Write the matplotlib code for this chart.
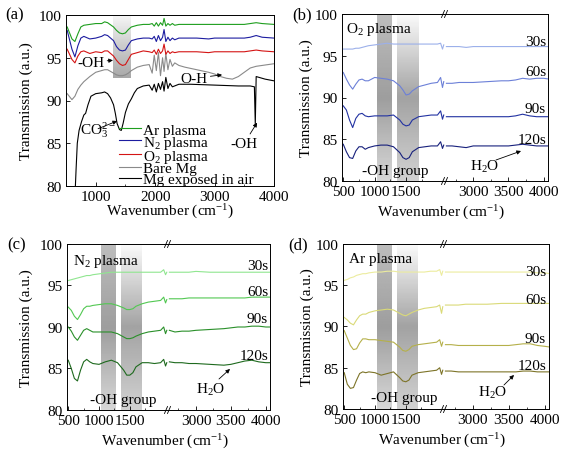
import numpy as np
import matplotlib
matplotlib.use("Agg")
import matplotlib.pyplot as plt
from matplotlib.ticker import MultipleLocator, FixedLocator

plt.rcParams['font.family'] = ['Liberation Serif', 'DejaVu Serif']
plt.rcParams['mathtext.fontset'] = 'custom'
plt.rcParams['mathtext.rm'] = 'Liberation Serif'
plt.rcParams['mathtext.it'] = 'Liberation Serif:italic'
plt.rcParams['mathtext.default'] = 'regular'

# ---------------- data: panel (a) ----------------
WN_A = [520, 600, 650, 700, 750, 800, 900, 1000, 1100, 1150,
        1200, 1300, 1350, 1400, 1450, 1500, 1550, 1600, 1700, 1800,
        1900, 1950, 1985, 2020, 2055, 2090, 2125, 2150, 2180, 2215,
        2250, 2290, 2330, 2400, 2500, 2700, 2900, 3000, 3100, 3200,
        3300, 3400, 3500, 3600, 3700, 3800, 4000]
AR_A = [98.6, 97.2, 96.9, 97.8, 98.6, 98.8, 98.9, 99.0, 99.0, 99.2,
        99.1, 98.6, 98.2, 97.9, 97.8, 97.9, 98.3, 98.6, 98.8, 98.9,
        98.9, 99.0, 98.7, 99.1, 98.7, 99.1, 98.8, 99.6, 98.7, 99.0,
        98.8, 99.0, 98.8, 98.9, 98.9, 98.9, 98.9, 98.9, 98.9, 98.9,
        98.9, 98.9, 98.9, 99.0, 99.1, 99.0, 98.9]
N2_A = [98.2, 96.0, 95.1, 96.4, 97.3, 97.5, 97.2, 97.3, 97.5, 97.7,
        97.6, 97.0, 96.3, 95.9, 95.8, 95.9, 96.5, 97.0, 97.2, 97.3,
        97.3, 97.2, 97.5, 96.9, 97.6, 97.0, 97.4, 98.3, 96.9, 97.4,
        97.0, 97.3, 97.1, 97.3, 97.3, 97.3, 97.2, 97.3, 97.3, 97.3,
        97.3, 97.3, 97.3, 97.4, 97.6, 97.4, 97.3]
O2_A = [96.0, 94.8, 94.4, 95.2, 95.7, 95.8, 95.5, 95.7, 95.6, 95.8,
        95.8, 95.2, 94.7, 94.3, 94.1, 94.2, 94.8, 95.4, 95.6, 95.8,
        95.7, 95.6, 95.9, 95.4, 96.0, 95.5, 95.8, 96.6, 95.4, 95.8,
        95.5, 95.7, 95.6, 95.7, 95.7, 95.7, 95.6, 95.7, 95.7, 95.7,
        95.7, 95.7, 95.7, 95.8, 95.9, 95.8, 95.7]
BARE_A = [90.8, 90.1, 90.5, 91.3, 91.8, 92.2, 92.8, 93.3, 93.5, 93.6,
          93.6, 93.2, 93.0, 92.9, 92.9, 93.0, 93.2, 93.5, 93.9, 94.1,
          94.2, 93.2, 95.3, 93.5, 95.6, 92.9, 95.0, 93.4, 95.5, 93.6,
          94.8, 94.0, 94.4, 94.1, 93.9, 93.6, 93.3, 93.1, 92.8, 92.6,
          92.5, 92.8, 93.3, 93.8, 94.0, 94.1, 94.3]
WN_AIR = [655, 670, 690, 720, 760, 800, 830, 870, 920, 1000,
          1100, 1150, 1200, 1250, 1300, 1330, 1360, 1400, 1430, 1460,
          1500, 1550, 1600, 1650, 1700, 1800, 1900, 1950, 1985, 2020,
          2055, 2090, 2125, 2150, 2180, 2215, 2250, 2290, 2400, 2600,
          3000, 3400, 3600, 3670, 3685, 3700, 3750, 3850, 4000]
AIR_A = [79.5, 82.0, 85.0, 86.5, 87.5, 88.3, 88.5, 89.5, 90.5, 90.8,
         90.9, 91.0, 90.8, 90.3, 89.5, 88.5, 87.3, 86.6, 86.5, 87.3,
         88.6, 89.6, 90.2, 90.9, 91.4, 91.7, 91.8, 91.2, 91.9, 91.0,
         92.0, 91.3, 92.2, 91.1, 92.7, 91.4, 92.0, 91.6, 91.9, 91.9,
         91.8, 91.7, 91.7, 91.6, 87.2, 92.8, 92.7, 92.5, 92.3]
LEGEND_A = ['Ar plasma', 'N$_2$ plasma', 'O$_2$ plasma', 'Bare Mg', 'Mg exposed in air']

# ---------------- data: panels (b)-(d), broken axis ----------------
WN_LEFT = [500, 550, 600, 650, 700, 750, 800, 850, 900, 1000,
           1100, 1200, 1300, 1400, 1450, 1500, 1550, 1600, 1700, 1800,
           1900, 2000, 2050, 2080, 2100]
WN_RIGHT = [2620, 2700, 2800, 2900, 3000, 3200, 3400, 3500, 3600, 3700,
            3800, 3900, 4000, 4080]
TIMES = ['30s', '60s', '90s', '120s']

O2_30 = [95.8, 95.8, 95.8, 95.8, 95.9, 95.9, 96.0, 96.1, 96.2, 96.3,
         96.4, 96.5, 96.4, 96.4, 96.4, 96.4, 96.4, 96.4, 96.4, 96.4,
         96.4, 96.4, 96.5, 95.8, 96.3,
         96.1, 96.1, 96.1, 96.0, 96.1, 96.1, 96.1, 96.1, 96.1, 96.1,
         96.1, 96.1, 96.1, 96.1]
O2_60 = [93.0, 92.2, 91.5, 91.0, 91.6, 92.1, 92.2, 92.0, 92.0, 92.4,
         92.3, 92.2, 92.0, 91.4, 90.9, 90.3, 90.4, 90.8, 91.3, 91.5,
         91.7, 91.8, 92.4, 91.2, 91.9,
         91.7, 91.7, 91.8, 91.8, 91.8, 91.9, 92.0, 92.0, 92.1, 92.3,
         92.2, 92.3, 92.3, 92.2]
O2_90 = [89.0, 88.5, 87.3, 86.4, 87.5, 88.0, 88.1, 87.8, 87.7, 87.8,
         87.8, 87.8, 87.9, 87.3, 86.8, 86.6, 86.7, 87.3, 87.7, 87.8,
         87.9, 87.9, 88.4, 87.4, 87.9,
         87.7, 87.7, 87.7, 87.7, 87.7, 87.7, 87.7, 87.7, 87.8, 88.0,
         87.8, 87.7, 87.7, 87.7]
O2_120 = [84.4, 83.5, 82.8, 82.7, 83.6, 84.1, 84.1, 83.8, 84.0, 84.2,
          84.3, 84.3, 84.1, 83.4, 82.8, 82.6, 82.8, 83.5, 84.0, 84.1,
          84.2, 84.2, 84.7, 83.9, 84.3,
          84.2, 84.2, 84.1, 84.0, 84.2, 84.2, 84.2, 84.2, 84.3, 84.4,
          84.3, 84.2, 84.2, 84.2]

N2_30 = [95.6, 95.7, 95.8, 95.9, 96.0, 96.1, 96.2, 96.2, 96.3, 96.4,
         96.5, 96.6, 96.6, 96.6, 96.6, 96.6, 96.6, 96.6, 96.6, 96.6,
         96.6, 96.6, 96.9, 96.3, 96.6,
         96.6, 96.6, 96.6, 96.6, 96.7, 96.6, 96.6, 96.6, 96.6, 96.6,
         96.6, 96.6, 96.6, 96.6]
N2_60 = [92.4, 92.0, 91.3, 90.9, 91.5, 92.2, 92.5, 92.5, 92.6, 92.7,
         92.8, 92.8, 92.6, 92.3, 92.1, 92.1, 92.2, 92.5, 92.8, 93.0,
         93.1, 93.2, 93.6, 92.9, 93.3,
         93.4, 93.4, 93.4, 93.5, 93.5, 93.5, 93.5, 93.5, 93.5, 93.5,
         93.6, 93.6, 93.6, 93.6]
N2_90 = [90.0, 89.5, 88.8, 88.4, 89.0, 89.6, 89.8, 89.6, 89.4, 89.4,
         89.4, 89.4, 89.2, 88.8, 88.6, 88.6, 88.7, 88.9, 89.2, 89.4,
         89.5, 89.6, 90.0, 89.2, 89.6,
         89.6, 89.4, 89.5, 89.5, 89.6, 89.7, 89.8, 89.9, 90.0, 90.0,
         90.1, 90.1, 90.0, 90.0]
N2_120 = [86.0, 85.0, 83.8, 83.5, 84.8, 85.8, 86.1, 85.8, 85.6, 85.5,
          85.8, 86.0, 85.7, 84.8, 84.2, 84.2, 84.5, 85.2, 85.7, 85.7,
          85.6, 85.7, 86.1, 85.3, 85.7,
          85.8, 85.7, 85.7, 85.6, 85.6, 85.5, 85.4, 85.5, 85.7, 85.9,
          86.0, 85.8, 85.7, 85.7]

AR_30 = [95.6, 95.7, 95.9, 96.0, 96.2, 96.3, 96.4, 96.4, 96.5, 96.6,
         96.6, 96.7, 96.7, 96.6, 96.6, 96.6, 96.6, 96.6, 96.6, 96.6,
         96.7, 96.7, 96.9, 96.2, 96.7,
         96.6, 96.6, 96.6, 96.6, 96.6, 96.6, 96.6, 96.6, 96.6, 96.6,
         96.6, 96.5, 96.5, 96.4]
AR_60 = [91.1, 90.8, 90.4, 90.2, 90.8, 91.3, 91.5, 91.5, 91.7, 91.9,
         92.0, 92.1, 92.0, 91.6, 91.4, 91.3, 91.5, 91.7, 92.0, 92.2,
         92.3, 92.4, 92.6, 91.6, 92.4,
         92.6, 92.6, 92.6, 92.7, 92.7, 92.7, 92.8, 92.8, 92.8, 92.8,
         92.8, 92.8, 92.8, 92.8]
AR_90 = [89.5, 88.6, 87.7, 87.2, 87.3, 88.0, 88.5, 88.5, 88.4, 88.4,
         88.3, 88.2, 88.1, 87.5, 87.1, 87.0, 87.2, 87.6, 87.8, 87.9,
         88.0, 88.1, 88.4, 87.6, 88.1,
         87.8, 87.8, 87.7, 87.7, 87.7, 87.7, 87.7, 87.7, 87.8, 87.9,
         87.9, 87.7, 87.6, 87.5]
AR_120 = [84.4, 83.0, 82.5, 82.6, 83.5, 84.3, 84.5, 84.4, 84.5, 84.4,
          84.1, 84.3, 84.5, 83.8, 83.4, 83.3, 83.5, 84.1, 84.4, 84.5,
          84.6, 84.7, 85.0, 84.2, 84.7,
          84.6, 84.6, 84.5, 84.5, 84.5, 84.5, 84.5, 84.5, 84.5, 84.6,
          84.6, 84.5, 84.5, 84.5]

# ---------------- figure ----------------
W, H = 582, 460
fig = plt.figure(figsize=(W / 100, H / 100), dpi=100)
FS = 11


def fx(px):
    return px / W


def fy(py):
    return 1 - py / H


def rect(l, r, t, b):
    return [l / W, 1 - b / H, (r - l) / W, (b - t) / H]


def style_axis(ax):
    ax.tick_params(direction='in', which='both', labelsize=FS, pad=3)
    ax.tick_params(which='major', length=3, width=0.6)
    ax.tick_params(which='minor', length=1.8, width=0.5)
    for s in ax.spines.values():
        s.set_linewidth(0.7)


def gradient_band(ax, x0, x1, y0, y1, top, mid, bot):
    g = np.concatenate([np.linspace(top, mid, 50), np.linspace(mid, bot, 50)])[:, None]
    ax.imshow(g, extent=[x0, x1, y0, y1], aspect='auto', cmap='gray',
              vmin=0, vmax=1, zorder=0, interpolation='bilinear')


ARROW = dict(arrowstyle='-|>', lw=0.6, color='k', mutation_scale=6,
             shrinkA=0, shrinkB=0)

# ---- panel (a) ----
axa = fig.add_axes(rect(66, 274, 16, 187))
style_axis(axa)
gradient_band(axa, 1290, 1590, 92.6, 100, 0.97, 0.8, 0.66)
axa.plot(WN_AIR, AIR_A, color='black', lw=0.8, label=LEGEND_A[4])
axa.plot(WN_A, BARE_A, color='#8a8a8a', lw=0.8, label=LEGEND_A[3])
axa.plot(WN_A, O2_A, color='#d41414', lw=0.8, label=LEGEND_A[2])
axa.plot(WN_A, N2_A, color='#1c1ca0', lw=0.8, label=LEGEND_A[1])
axa.plot(WN_A, AR_A, color='#1e9e1e', lw=0.8, label=LEGEND_A[0])
axa.set_xlim(500, 4000)
axa.set_ylim(80, 100)
axa.xaxis.set_major_locator(FixedLocator([1000, 2000, 3000, 4000]))
axa.xaxis.set_minor_locator(MultipleLocator(500))
axa.yaxis.set_major_locator(MultipleLocator(5))
axa.set_ylabel('Transmission (a.u.)', fontsize=FS)
axa.yaxis.set_label_coords((33 - 66) / 208, 0.5)
h, l = axa.get_legend_handles_labels()
leg = axa.legend(h[::-1], l[::-1], loc='lower left', bbox_to_anchor=(0.255, 0.0),
                 frameon=False, fontsize=FS, handlelength=1.45, handletextpad=0.15,
                 labelspacing=-0.2, borderpad=0, borderaxespad=0)
axa.annotate('-OH', xy=(1290, 94.7), xytext=(690, 94.5), ha='left', va='center',
             fontsize=FS, arrowprops=ARROW)
axa.annotate('CO$_3^{2-}$', xy=(1360, 87.6), xytext=(1040, 86.7), ha='center', va='center',
             fontsize=FS, arrowprops=ARROW)
axa.annotate('O-H', xy=(3126, 93.0), xytext=(2655, 92.6), ha='center', va='center',
             fontsize=FS, arrowprops=ARROW)
axa.annotate('-OH', xy=(3715, 87.4), xytext=(3500, 85.0), ha='center', va='center',
             fontsize=FS, arrowprops=ARROW)
fig.text(fx(15), fy(15), '(a)', fontsize=FS + 1, ha='center', va='center')
fig.text(fx(170), fy(212), 'Wavenumber (cm$^{-1}$)', fontsize=FS, ha='center', va='center')


# ---- broken panels ----
def broken_panel(l, b_, r, t, bt, series, colors, tag, tag_xy, title, title_xy,
                 time_x, time_ys, oh_xy, h2o_xy, arr_from, arr_to, ylab_px):
    axL = fig.add_axes(rect(l, b_, t, bt))
    axR = fig.add_axes(rect(b_, r, t, bt))
    for ax in (axL, axR):
        style_axis(ax)
        ax.set_ylim(80, 100)
    gradient_band(axL, 1040, 1275, 80, 100, 0.74, 0.62, 0.84)
    gradient_band(axL, 1355, 1690, 80, 100, 0.98, 0.64, 0.82)
    n = len(WN_LEFT)
    for vals, c in zip(series, colors):
        axL.plot(WN_LEFT, vals[:n], color=c, lw=0.8)
        axR.plot(WN_RIGHT, vals[n:], color=c, lw=0.8)
    axL.set_xlim(480, 2120)
    axR.set_xlim(2600, 4060)
    axL.spines['right'].set_visible(False)
    axR.spines['left'].set_visible(False)
    axL.xaxis.set_major_locator(FixedLocator([500, 1000, 1500]))
    axL.xaxis.set_minor_locator(FixedLocator([750, 1250, 1750]))
    axR.xaxis.set_major_locator(FixedLocator([3000, 3500, 4000]))
    axR.xaxis.set_minor_locator(FixedLocator([2750, 3250, 3750]))
    axL.yaxis.set_major_locator(MultipleLocator(5))
    axR.tick_params(axis='y', which='both', left=False, labelleft=False)
    axL.set_ylabel('Transmission (a.u.)', fontsize=FS)
    axL.yaxis.set_label_coords((ylab_px - l) / (b_ - l), 0.5)
    # break marks
    wpx = r - b_
    hpx = bt - t
    for yv in (0, 1):
        for off in (-2.0, 1.0):
            axR.plot([(off - 1.5) / wpx, (off + 1.5) / wpx],
                     [yv - 3.5 / hpx, yv + 3.5 / hpx], color='k', lw=0.6,
                     transform=axR.transAxes, clip_on=False)
    fig.text(fx(tag_xy[0]), fy(tag_xy[1]), tag, fontsize=FS + 1, ha='center', va='center')
    fig.text(fx(title_xy[0]), fy(title_xy[1]), title, fontsize=FS, ha='left', va='center')
    for tl, ty in zip(TIMES, time_ys):
        fig.text(fx(time_x), fy(ty), tl, fontsize=FS, ha='right', va='center')
    fig.text(fx(oh_xy[0]), fy(oh_xy[1]), '-OH group', fontsize=FS, ha='center', va='center')
    fig.text(fx(h2o_xy[0]), fy(h2o_xy[1]), 'H$_2$O', fontsize=FS, ha='center', va='center')
    fig.add_artist(plt.Annotation('', xy=(fx(arr_to[0]), fy(arr_to[1])),
                                  xytext=(fx(arr_from[0]), fy(arr_from[1])),
                                  xycoords='figure fraction', textcoords='figure fraction',
                                  arrowprops=ARROW))
    fig.text(fx((l + r) / 2 - 4), fy(bt + 31), 'Wavenumber (cm$^{-1}$)', fontsize=FS,
             ha='center', va='center')
    return axL, axR


broken_panel(342, 445, 548, 15, 182, [O2_30, O2_60, O2_90, O2_120],
             ['#9cb0ea', '#6c80d8', '#2232a2', '#17207c'],
             '(b)', (302, 15), 'O$_2$ plasma', (346, 30),
             546, [42, 72, 110, 140], (395, 172), (485, 167),
             (496, 161), (521, 152), 313)

broken_panel(67, 168, 270, 245, 411, [N2_30, N2_60, N2_90, N2_120],
             ['#90e690', '#52c852', '#2a902a', '#1e6a1e'],
             '(c)', (17, 245), 'N$_2$ plasma', (73, 262),
             268, [267, 292, 320, 357], (123, 401), (211, 390),
             (219, 380), (230, 370), 33)

broken_panel(343, 444, 549, 245, 410, [AR_30, AR_60, AR_90, AR_120],
             ['#ecec9e', '#dada78', '#b5b04a', '#7d7428'],
             '(d)', (298, 245), 'Ar plasma', (349, 260),
             546, [272, 300, 340, 367], (404, 399), (493, 393),
             (504, 386), (514, 376), 314)

fig.savefig('out.png', dpi=100)
